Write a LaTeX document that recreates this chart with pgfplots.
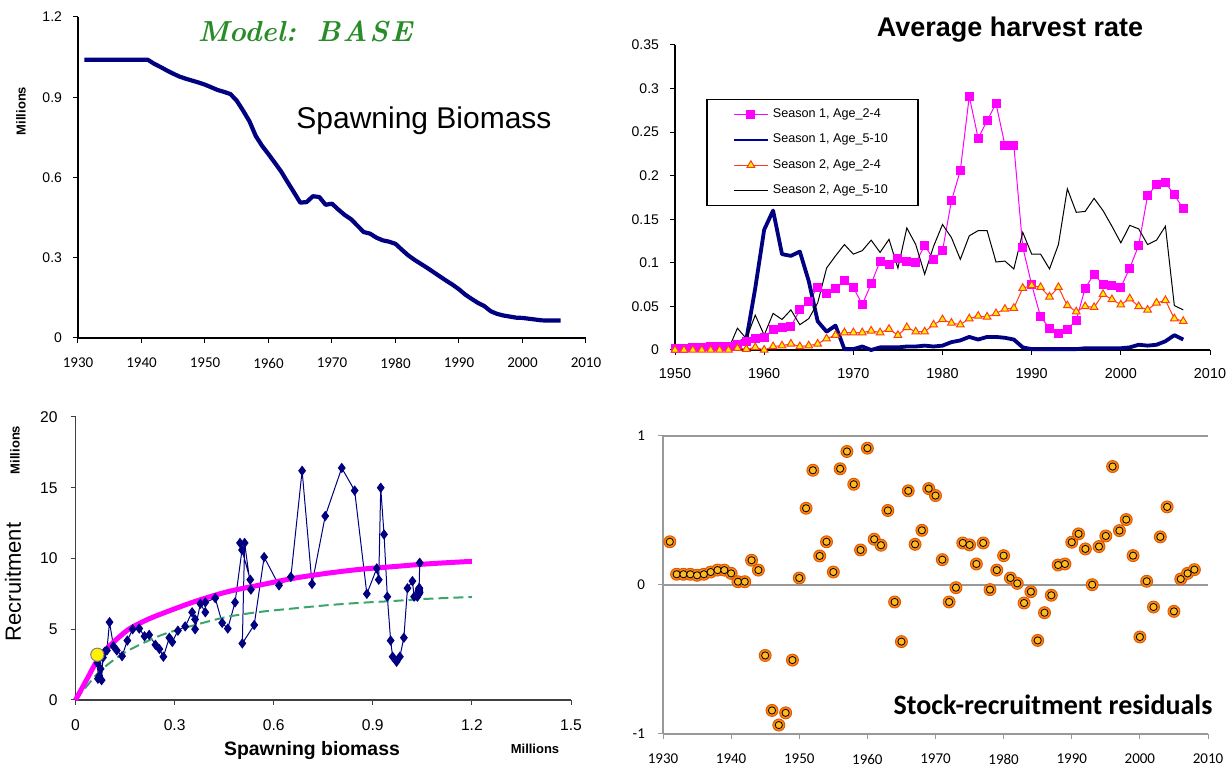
\documentclass[border=0pt]{standalone}
\usepackage{fontspec}
\setmainfont{Liberation Sans}
\newfontfamily\calibri{Carlito}
\newfontfamily\lmr{Latin Modern Roman}
\usepackage{pgfplots}
\usepackage{pgfplotstable}
\pgfplotsset{compat=1.18}
\definecolor{navy}{RGB}{0,0,128}
\definecolor{legnavy}{RGB}{0,0,160}
\definecolor{mag}{RGB}{255,0,255}
\definecolor{sgreen}{RGB}{60,165,105}
\definecolor{tgreen}{RGB}{40,140,40}
\definecolor{triedge}{RGB}{255,60,30}
\definecolor{dotout}{RGB}{250,135,15}
\definecolor{dotedge}{RGB}{225,85,0}
\definecolor{dotin}{RGB}{255,185,35}

\pgfplotstableread{
year ssb
1931 1.04
1932 1.04
1933 1.04
1934 1.04
1935 1.04
1936 1.04
1937 1.04
1938 1.04
1939 1.04
1940 1.04
1941 1.04
1942 1.025
1943 1.013
1944 1.0
1945 0.988
1946 0.977
1947 0.969
1948 0.962
1949 0.955
1950 0.947
1951 0.937
1952 0.927
1953 0.92
1954 0.912
1955 0.887
1956 0.85
1957 0.81
1958 0.755
1959 0.718
1960 0.687
1961 0.655
1962 0.622
1963 0.583
1964 0.545
1965 0.506
1966 0.508
1967 0.53
1968 0.527
1969 0.498
1970 0.502
1971 0.48
1972 0.46
1973 0.444
1974 0.42
1975 0.396
1976 0.39
1977 0.375
1978 0.365
1979 0.36
1980 0.352
1981 0.33
1982 0.309
1983 0.292
1984 0.277
1985 0.262
1986 0.246
1987 0.23
1988 0.214
1989 0.199
1990 0.182
1991 0.162
1992 0.146
1993 0.131
1994 0.119
1995 0.1
1996 0.09
1997 0.084
1998 0.08
1999 0.076
2000 0.075
2001 0.072
2002 0.069
2003 0.066
2004 0.065
2005 0.065
2006 0.065
}\ssbtable

\pgfplotstableread{
year s1a s1b s2a s2b
1950 0.002 0.001 0.000 0.000
1951 0.002 0.001 0.000 0.000
1952 0.003 0.001 0.000 0.000
1953 0.003 0.001 0.000 0.001
1954 0.004 0.001 0.000 0.001
1955 0.004 0.001 0.000 0.001
1956 0.004 0.001 0.000 0.001
1957 0.006 0.008 0.002 0.025
1958 0.010 0.012 0.001 0.013
1959 0.013 0.071 0.003 0.040
1960 0.014 0.138 0.000 0.017
1961 0.024 0.160 0.004 0.042
1962 0.026 0.110 0.005 0.035
1963 0.027 0.108 0.007 0.046
1964 0.046 0.113 0.004 0.029
1965 0.056 0.079 0.005 0.036
1966 0.072 0.033 0.007 0.054
1967 0.065 0.021 0.013 0.094
1968 0.070 0.028 0.017 0.108
1969 0.080 0.001 0.020 0.121
1970 0.072 0.001 0.020 0.110
1971 0.052 0.004 0.020 0.114
1972 0.076 0.000 0.022 0.126
1973 0.102 0.003 0.020 0.112
1974 0.098 0.003 0.024 0.127
1975 0.105 0.003 0.017 0.094
1976 0.102 0.004 0.026 0.140
1977 0.100 0.004 0.021 0.121
1978 0.120 0.005 0.021 0.087
1979 0.104 0.004 0.029 0.119
1980 0.114 0.005 0.035 0.144
1981 0.171 0.009 0.031 0.129
1982 0.206 0.011 0.029 0.104
1983 0.291 0.015 0.036 0.131
1984 0.243 0.012 0.039 0.137
1985 0.263 0.015 0.038 0.137
1986 0.283 0.015 0.042 0.101
1987 0.235 0.014 0.047 0.102
1988 0.235 0.012 0.048 0.093
1989 0.118 0.003 0.071 0.135
1990 0.075 0.001 0.074 0.110
1991 0.038 0.001 0.072 0.110
1992 0.025 0.001 0.061 0.093
1993 0.019 0.001 0.072 0.121
1994 0.024 0.001 0.051 0.185
1995 0.034 0.001 0.044 0.158
1996 0.071 0.002 0.050 0.159
1997 0.087 0.002 0.049 0.174
1998 0.075 0.002 0.064 0.160
1999 0.074 0.002 0.058 0.142
2000 0.072 0.002 0.052 0.123
2001 0.094 0.003 0.059 0.143
2002 0.120 0.006 0.050 0.139
2003 0.177 0.005 0.046 0.121
2004 0.190 0.006 0.054 0.126
2005 0.192 0.010 0.057 0.142
2006 0.178 0.017 0.036 0.051
2007 0.162 0.012 0.033 0.046
}\hrtable

\pgfplotstableread{
ssb rec
1.042 9.7
1.040 7.7
1.040 7.6
1.041 7.7
1.040 7.5
1.042 7.6
1.040 7.8
1.041 7.9
1.040 7.9
1.038 7.7
1.035 7.3
1.025 7.3
1.020 8.4
1.005 7.9
0.994 4.4
0.982 3.06
0.972 2.7
0.960 3.06
0.954 4.2
0.944 7.3
0.934 11.7
0.924 15.0
0.918 8.5
0.912 9.3
0.882 7.5
0.845 14.8
0.806 16.4
0.756 13.0
0.716 8.2
0.686 16.2
0.652 8.7
0.616 8.1
0.571 10.1
0.541 5.3
0.505 4.0
0.512 11.1
0.531 7.8
0.529 8.5
0.498 11.1
0.504 10.6
0.483 6.9
0.461 5.05
0.444 5.45
0.423 7.2
0.393 6.9
0.393 6.2
0.378 6.8
0.362 5.0
0.362 5.7
0.353 6.2
0.332 5.2
0.310 4.9
0.293 4.1
0.284 4.4
0.266 3.06
0.254 3.6
0.242 3.9
0.223 4.6
0.209 4.5
0.193 5.05
0.173 5.0
0.157 4.2
0.141 3.1
0.125 3.5
0.115 3.8
0.103 5.5
0.095 3.5
0.088 3.4
0.083 3.0
0.079 1.4
0.076 2.2
0.072 1.7
0.070 2.9
0.069 3.3
0.068 1.5
0.067 2.6
}\srtable

\pgfplotstableread{
ssb rec
0 0
0.033 1.4
0.066 2.8
0.1 3.75
0.157 4.93
0.21 5.6
0.258 6.07
0.359 6.94
0.46 7.65
0.56 8.13
0.66 8.6
0.763 8.96
0.864 9.24
0.965 9.43
1.066 9.62
1.2 9.8
}\curveA

\pgfplotstableread{
ssb rec
0 0
0.035 1.0
0.066 1.85
0.1 2.55
0.157 3.46
0.258 4.57
0.359 5.28
0.46 5.88
0.56 6.23
0.66 6.47
0.763 6.7
0.864 6.87
0.965 7.0
1.066 7.15
1.2 7.28
}\curveB

\pgfplotstableread{
year res
1931 0.29
1932 0.072
1933 0.072
1934 0.072
1935 0.065
1936 0.072
1937 0.087
1938 0.10
1939 0.10
1940 0.078
1941 0.022
1942 0.022
1943 0.166
1944 0.10
1945 -0.473
1946 -0.842
1947 -0.94
1948 -0.858
1949 -0.504
1950 0.047
1951 0.515
1952 0.77
1953 0.195
1954 0.29
1955 0.087
1956 0.78
1957 0.896
1958 0.676
1959 0.235
1960 0.918
1961 0.307
1962 0.267
1963 0.50
1964 -0.114
1965 -0.38
1966 0.632
1967 0.273
1968 0.367
1969 0.647
1970 0.60
1971 0.17
1972 -0.114
1973 -0.018
1974 0.282
1975 0.269
1976 0.141
1977 0.282
1978 -0.031
1979 0.10
1980 0.197
1981 0.047
1982 0.011
1983 -0.121
1984 -0.045
1985 -0.372
1986 -0.186
1987 -0.069
1988 0.134
1989 0.141
1990 0.287
1991 0.343
1992 0.242
1993 0.002
1994 0.258
1995 0.329
1996 0.795
1997 0.365
1998 0.439
1999 0.197
2000 -0.349
2001 0.025
2002 -0.148
2003 0.323
2004 0.524
2005 -0.177
2006 0.04
2007 0.078
2008 0.103
}\restable

\begin{document}
\begin{tikzpicture}
\path[use as bounding box] (0,0) rectangle (616pt,384.5pt);
\pgfplotsset{
  every axis/.append style={scale only axis, anchor=south west,
    axis x line*=bottom, axis y line*=left, tick align=outside,
    major tick length=2.5pt, clip=false,
    /pgf/number format/assume math mode=true},
}
% ---------- Panel 1: spawning biomass
\begin{axis}[at={(39pt,215.5pt)}, width=254pt, height=160.5pt,
  xmin=1930, xmax=2010, ymin=0, ymax=1.2,
  xtick={1930,1940,1950,1960,1970,1980,1990,2000,2010},
  xticklabels={1930,1940,1950,1960,1970,1980,1990,2000,2010},
  ytick={0,0.3,0.6,0.9,1.2}, yticklabels={0,0.3,0.6,0.9,1.2},
  axis line style={black, line width=0.6pt}, tick style={black, line width=0.5pt},
  xticklabel style={font=\calibri\fontsize{7.5}{8}\selectfont, yshift=-4pt},
  yticklabel style={font=\fontsize{7}{8}\selectfont, xshift=-2pt},
]
\addplot[navy, line width=2.1pt, line join=round] table[x=year, y=ssb] {\ssbtable};
\end{axis}
% ---------- Panel 2: harvest rate
\begin{axis}[at={(337.5pt,209.5pt)}, width=267.5pt, height=152.5pt,
  xmin=1950, xmax=2010, ymin=0, ymax=0.35,
  xtick={1950,1960,1970,1980,1990,2000,2010},
  xticklabels={1950,1960,1970,1980,1990,2000,2010},
  ytick={0,0.05,0.1,0.15,0.2,0.25,0.3,0.35},
  yticklabels={0,0.05,0.1,0.15,0.2,0.25,0.3,0.35},
  axis line style={black, line width=0.6pt}, tick style={black, line width=0.5pt},
  xticklabel style={font=\fontsize{7.2}{8}\selectfont, yshift=-3pt},
  yticklabel style={font=\fontsize{7}{8}\selectfont, xshift=-2pt},
  legend style={at={(rel axis cs:0.058,0.824)}, anchor=north west,
    draw=black, line width=0.8pt, fill=white, inner xsep=13pt, inner ysep=2.5pt,
    row sep=2.8pt, font=\fontsize{6.3}{7}\selectfont},
  legend cell align=left,
]
\addplot[mag, line width=0.5pt, mark=square*, mark size=2pt, mark options={fill=mag, draw=mag}] table[x=year, y=s1a] {\hrtable};
\addlegendentry{Season 1, Age\_2-4}
\addlegendimage{legnavy, line width=1pt}
\addlegendentry{Season 1, Age\_5-10}
\addplot[navy, line width=1.9pt, line join=round, forget plot] table[x=year, y=s1b] {\hrtable};
\addplot[triedge, line width=0.5pt, mark=triangle*, mark size=2.2pt, mark options={fill=yellow, draw=triedge, line width=0.5pt}] table[x=year, y=s2a] {\hrtable};
\addlegendentry{Season 2, Age\_2-4}
\addplot[black, line width=0.5pt] table[x=year, y=s2b] {\hrtable};
\addlegendentry{Season 2, Age\_5-10}
\end{axis}
% ---------- Panel 3: stock-recruitment
\begin{axis}[at={(37.75pt,34.5pt)}, width=247.75pt, height=141.5pt,
  xmin=0, xmax=1.5, ymin=0, ymax=20,
  xtick={0,0.3,0.6,0.9,1.2,1.5}, xticklabels={0,0.3,0.6,0.9,1.2,1.5},
  ytick={0,5,10,15,20}, yticklabels={0,5,10,15,20},
  axis line style={black!75, line width=0.6pt}, tick style={black!75, line width=0.5pt},
  xticklabel style={font=\fontsize{7.8}{8}\selectfont, yshift=-4pt},
  yticklabel style={font=\fontsize{7.8}{8}\selectfont, xshift=-3pt},
]
\addplot[navy, line width=0.5pt, mark=diamond*, mark size=2.2pt, mark options={fill=navy, draw=navy}] table[x=ssb, y=rec] {\srtable};
\addplot[sgreen, line width=1pt, dash pattern=on 5pt off 2.5pt, smooth] table[x=ssb, y=rec] {\curveB};
\addplot[mag, line width=2.5pt, smooth] table[x=ssb, y=rec] {\curveA};
\addplot[only marks, mark=*, mark size=3.3pt, mark options={fill=yellow, draw=gray, line width=0.5pt}] coordinates {(0.066,3.2)};
\end{axis}
% ---------- Panel 4: residuals
\begin{axis}[at={(331.5pt,17.5pt)}, width=272.5pt, height=149pt,
  xmin=1930, xmax=2010, ymin=-1, ymax=1,
  xtick={1930,1940,1950,1960,1970,1980,1990,2000,2010},
  xticklabels={1930,1940,1950,1960,1970,1980,1990,2000,2010},
  ytick={-1,0,1}, yticklabels={-1,0,1},
  ymajorgrids, grid style={gray!80, line width=0.6pt},
  axis line style={gray!80, line width=0.6pt}, tick style={gray!80, line width=0.5pt},
  xticklabel style={font=\calibri\fontsize{7.5}{8}\selectfont, yshift=-4pt},
  yticklabel style={font=\calibri\fontsize{7.5}{8}\selectfont, xshift=-3pt},
]
\addplot[only marks, mark=*, mark size=3pt, mark options={fill=dotout, draw=dotedge, line width=0.45pt}] table[x=year, y=res] {\restable};
\addplot[only marks, mark=*, mark size=1.8pt, mark options={fill=dotin, draw=none}] table[x=year, y=res] {\restable};
\end{axis}
% ---------- Texts
\node[text=tgreen, font=\lmr\bfseries\itshape\fontsize{14.5}{16}\selectfont] at (152.5pt,369pt) {Model:\, B\kern1pt A\kern1pt S\kern1pt E};
\node[font=\fontsize{15}{17}\selectfont] at (212pt,324pt) {Spawning Biomass};
\node[rotate=90, font=\bfseries\fontsize{6.5}{7}\selectfont] at (10.5pt,329pt) {Millions};
\node[font=\bfseries\fontsize{13.5}{15}\selectfont] at (505pt,369.5pt) {Average harvest rate};
\node[rotate=90, font=\fontsize{11}{12}\selectfont] at (6.5pt,93.5pt) {Recruitment};
\node[rotate=90, font=\bfseries\fontsize{6.5}{7}\selectfont] at (7.5pt,159.5pt) {Millions};
\node[font=\bfseries\fontsize{9.7}{11}\selectfont] at (156pt,9pt) {Spawning biomass};
\node[font=\bfseries\fontsize{6.5}{7}\selectfont] at (267.5pt,10pt) {Millions};
\node[font=\calibri\bfseries\fontsize{14}{16}\selectfont] at (526.5pt,32pt) {Stock-recruitment residuals};
\end{tikzpicture}
\end{document}
